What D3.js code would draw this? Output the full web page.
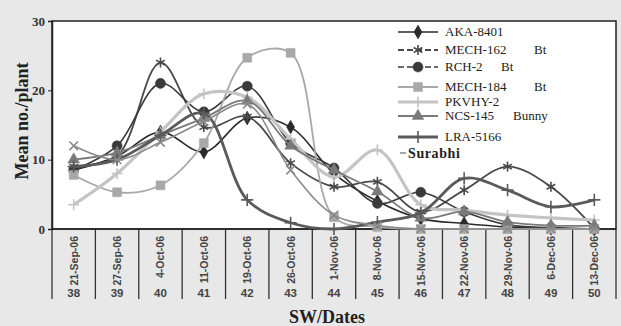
<!DOCTYPE html>
<html>
<head>
<meta charset="utf-8">
<script src="https://cdn.jsdelivr.net/npm/d3@7"></script>
<style>
  body { margin: 0; background: #e8e8e8; }
  svg { display: block; }
</style>
</head>
<body>
<svg id="chart" width="621" height="326"></svg>
<script>
const weeks = ["38", "39", "40", "41", "42", "43", "44", "45", "46", "47", "48", "49", "50"]
const dates = ["21-Sep-06", "27-Sep-06", "4-Oct-06", "11-Oct-06", "19-Oct-06", "26-Oct-06", "1-Nov-06",
  "8-Nov-06", "15-Nov-06", "22-Nov-06", "29-Nov-06", "6-Dec-06", "13-Dec-06"]
const yTicks = [0, 10, 20, 30]

const seriesNames = ["AKA-8401", "MECH-162", "RCH-2", "MECH-184", "PKVHY-2", "NCS-145", "LRA-5166", "Surabhi"]
const seriesSuffix = ["", "Bt", "Bt", "Bt", "", "Bunny", "", ""]

const aka8401 = [8.5, 10.5, 14, 11.1, 16, 14.7, 8, 4, 1.5, 0.8, 0.3, 0.1, 0]
const mech162 = [9, 10.5, 24, 14.7, 16.2, 9.5, 6.1, 6.8, 2.5, 5.6, 9.0, 6.1, 0.1]
const rch2 = [8.5, 12, 21, 16.9, 20.6, 12.4, 8.8, 3.7, 5.3, 2.5, 0.6, 0.2, 0]
const mech184 = [7.8, 5.3, 6.3, 12.4, 24.7, 25.4, 1.7, 0.3, 0, 0, 0, 0, 0]
const pkvhy2 = [3.5, 8, 14, 19.5, 19, 13, 7.5, 11.4, 3.5, 2.7, 2, 1.6, 1.3]
const ncs145 = [10, 11, 13.5, 16, 18.5, 12, 8.5, 5.4, 1.6, 2.5, 1, 0.5, 0.5]
const lra5166 = [9, 10, 13.5, 16.7, 4.2, 0.9, 0, 1, 2.3, 7.3, 5.6, 3.2, 4.2]
const surabhi = [12, 10, 12.5, 15.5, 18, 8.5, 2, 0.5, 0, 0, 0, 0, 0]

const seriesValues = [aka8401, mech162, rch2, mech184, pkvhy2, ncs145, lra5166, surabhi]

// grayscale styling per series
const styles = [
  { color: "#2a2a2a", width: 1.6, symbol: d3.symbolDiamond, size: 55, fillMarker: true },
  { color: "#4a4a4a", width: 1.8, symbol: d3.symbolAsterisk, size: 70, fillMarker: false },
  { color: "#3a3a3a", width: 1.6, symbol: d3.symbolCircle, size: 80, fillMarker: true },
  { color: "#a8a8a8", width: 1.8, symbol: d3.symbolSquare, size: 80, fillMarker: true },
  { color: "#c4c4c4", width: 3.2, symbol: d3.symbolPlus, size: 40, fillMarker: false },
  { color: "#7a7a7a", width: 1.8, symbol: d3.symbolTriangle, size: 60, fillMarker: true },
  { color: "#5a5a5a", width: 2.8, symbol: d3.symbolPlus, size: 50, fillMarker: false },
  { color: "#8a8a8a", width: 1.6, symbol: d3.symbolX, size: 50, fillMarker: false }
]

const svg = d3.select("#chart")
const plotLeft = 52, plotRight = 616, plotTop = 21, plotBottom = 229

const x = d3.scaleBand().domain(weeks).range([plotLeft, plotRight]).padding(0)
const y = d3.scaleLinear().domain([0, 30]).range([plotBottom, plotTop])
const cx = i => x(weeks[i]) + x.bandwidth() / 2

// plot area
svg.append("rect")
  .attr("x", plotLeft).attr("y", plotTop)
  .attr("width", plotRight - plotLeft).attr("height", plotBottom - plotTop)
  .attr("fill", "#fff")
  .attr("stroke", "#222").attr("stroke-width", 1.5)

// y axis
const yAxis = svg.append("g")
  .attr("transform", `translate(${plotLeft},0)`)
  .call(d3.axisLeft(y).tickValues(yTicks).tickSize(4).tickPadding(3))
yAxis.select(".domain").attr("stroke", "#222").attr("stroke-width", 1.5)
yAxis.selectAll(".tick line").attr("stroke", "#222")
yAxis.selectAll(".tick text")
  .attr("font-family", "Liberation Serif")
  .attr("font-size", 13)
  .attr("font-weight", "bold")
  .attr("fill", "#333")

// category separators below the axis
const bounds = weeks.map(w => x(w)).concat([plotRight])
svg.selectAll(".sep")
  .data(bounds)
  .enter()
  .append("line")
  .attr("class", "sep")
  .attr("x1", d => d).attr("x2", d => d)
  .attr("y1", plotBottom).attr("y2", 299)
  .attr("stroke", "#333").attr("stroke-width", 1.3)

svg.append("line")
  .attr("x1", plotLeft).attr("x2", plotRight)
  .attr("y1", plotBottom).attr("y2", plotBottom)
  .attr("stroke", "#222").attr("stroke-width", 1.5)

// date labels, rotated
svg.selectAll(".date-label")
  .data(dates)
  .enter()
  .append("text")
  .attr("class", "date-label")
  .attr("transform", (d, i) => `translate(${cx(i) + 4},236) rotate(-90)`)
  .attr("text-anchor", "end")
  .attr("font-family", "Liberation Sans Narrow, Liberation Sans")
  .attr("font-size", 10.5)
  .attr("font-weight", "bold")
  .attr("fill", "#444")
  .text(d => d)

// week numbers
svg.selectAll(".week-label")
  .data(weeks)
  .enter()
  .append("text")
  .attr("class", "week-label")
  .attr("x", (d, i) => cx(i))
  .attr("y", 297)
  .attr("text-anchor", "middle")
  .attr("font-family", "Liberation Sans Narrow, Liberation Sans")
  .attr("font-size", 11.5)
  .attr("font-weight", "bold")
  .attr("fill", "#444")
  .text(d => d)

// axis titles
svg.append("text")
  .attr("transform", "translate(28,121) rotate(-90)")
  .attr("text-anchor", "middle")
  .attr("font-family", "Liberation Serif")
  .attr("font-size", 18)
  .attr("font-weight", "bold")
  .attr("fill", "#222")
  .text("Mean no./plant")

svg.append("text")
  .attr("x", 327).attr("y", 323)
  .attr("text-anchor", "middle")
  .attr("font-family", "Liberation Serif")
  .attr("font-size", 18)
  .attr("font-weight", "bold")
  .attr("fill", "#222")
  .text("SW/Dates")

// series lines
const line = d3.line()
  .x((d, i) => cx(i))
  .y(d => y(d))
  .curve(d3.curveCatmullRom.alpha(0.5))

const plot = svg.append("g")

seriesValues.forEach((vals, s) => {
  const st = styles[s]
  plot.append("path")
    .datum(vals)
    .attr("fill", "none")
    .attr("stroke", st.color)
    .attr("stroke-width", st.width)
    .attr("d", line)
  plot.selectAll(`.m${s}`)
    .data(vals)
    .enter()
    .append("path")
    .attr("class", `m${s}`)
    .attr("transform", (d, i) => `translate(${cx(i)},${y(d)})`)
    .attr("d", d3.symbol().type(st.symbol).size(st.size))
    .attr("fill", st.fillMarker ? st.color : "none")
    .attr("stroke", st.color)
    .attr("stroke-width", st.fillMarker ? 0.5 : 1.6)
})

// legend
const legendY = [36, 54, 71, 91, 106, 120, 141, 158]
const legend = svg.append("g")
seriesNames.forEach((name, s) => {
  const st = styles[s]
  const ly = legendY[s]
  const g = legend.append("g").attr("transform", `translate(0,${ly})`)
  if (s < 7) {
    g.append("line")
      .attr("x1", 398).attr("x2", 438)
      .attr("y1", -4).attr("y2", -4)
      .attr("stroke", st.color).attr("stroke-width", st.width)
      .attr("stroke-dasharray", s === 1 || s === 2 ? "6,3" : null)
    g.append("path")
      .attr("transform", "translate(418,-4)")
      .attr("d", d3.symbol().type(st.symbol).size(st.size))
      .attr("fill", st.fillMarker ? st.color : "none")
      .attr("stroke", st.color)
      .attr("stroke-width", st.fillMarker ? 0.5 : 1.6)
  } else {
    g.append("line")
      .attr("x1", 400).attr("x2", 406)
      .attr("y1", -5).attr("y2", -5)
      .attr("stroke", st.color).attr("stroke-width", 1.5)
  }
  g.append("text")
    .attr("x", s === 7 ? 408 : 445)
    .attr("y", 0)
    .attr("font-family", "Liberation Serif")
    .attr("font-size", s === 7 ? 14 : 13)
    .attr("font-weight", s === 7 ? "bold" : "normal")
    .attr("letter-spacing", s === 7 ? 0.6 : 0)
    .attr("fill", "#222")
    .text(name)
  if (seriesSuffix[s]) {
    g.append("text")
      .attr("x", s === 2 ? 501 : s === 5 ? 513 : 534)
      .attr("y", 0)
      .attr("font-family", "Liberation Serif")
      .attr("font-size", 13)
      .attr("fill", "#222")
      .text(seriesSuffix[s])
  }
})
</script>
</body>
</html>
